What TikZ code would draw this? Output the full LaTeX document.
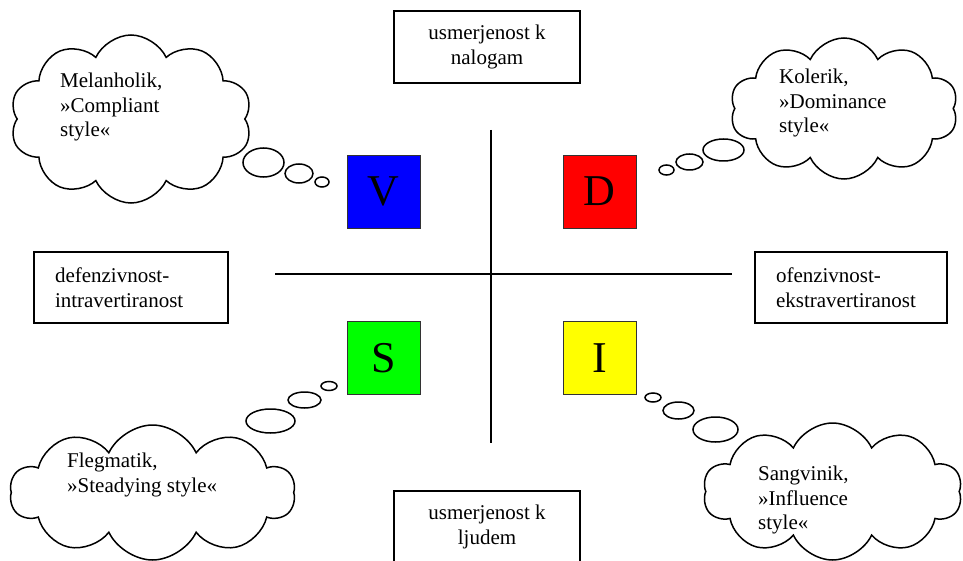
\documentclass[tikz,border=0pt]{standalone}
\usepackage{fontspec}
\setmainfont{Liberation Serif}
\usetikzlibrary{shapes.symbols}
\definecolor{vblue}{HTML}{0000FF}
\definecolor{dred}{HTML}{FF0000}
\definecolor{sgreen}{HTML}{00FF00}
\definecolor{iyellow}{HTML}{FFFF00}
\newcommand{\labfont}{\fontsize{21}{24.5}\selectfont}
\tikzset{
  axis/.style={draw=black, line width=1.4pt},
  frame/.style={draw=black, line width=1.4pt, font=\labfont, inner sep=0pt},
  side/.style={align=left, inner xsep=21pt, minimum height=71pt},
  sq/.style={draw=black!80, line width=0.9pt, minimum size=73pt, inner sep=0pt, font=\fontsize{44}{50}\selectfont},
  cloudy/.style={cloud, cloud puffs=10, cloud puff arc=130, draw=black, fill=white, line width=1.5pt, inner sep=0pt},
  bub/.style={draw=black, fill=white, line width=1.5pt},
  lab/.style={anchor=north west, inner sep=0pt, align=left, font=\labfont},
}

\begin{document}
\begin{tikzpicture}[x=1pt,y=-1pt]
  \useasboundingbox (0,0) rectangle (963,561);
  % the two axes
  \coordinate (N) at (491,130);
  \coordinate (Sd) at (491,443);
  \coordinate (W) at (275,274);
  \coordinate (E) at (732,274);
  \draw[axis] (N) -- (Sd);
  \draw[axis] (W) -- (E);

  % axis ends
  \node[frame, align=center, minimum width=186pt, minimum height=72pt] (task) at (487,47) {usmerjenost k\\nalogam};
  \node[frame, align=center, minimum width=186pt, minimum height=72pt] (people) at (487,527) {usmerjenost k\\ljudem};
  \node[frame, side, text width=152pt] (def) at (131,287.5) {defenzivnost-\\intravertiranost};
  \node[frame, side, text width=150pt] (off) at (851,287.5) {ofenzivnost-\\ekstravertiranost};

  % the four styles
  \node[sq, fill=vblue] (V) at (383.5,191.5) {V};
  \node[sq, fill=dred] (D) at (599.5,191.5) {D};
  \node[sq, fill=sgreen] (S) at (383.5,358) {S};
  \node[sq, fill=iyellow] (I) at (599.5,358) {I};

  % bubbles leading to the clouds
  \draw[bub] (263.5,162.5) ellipse [x radius=20.5pt, y radius=14.5pt];
  \draw[bub] (299,173.5) ellipse [x radius=14pt, y radius=9.5pt];
  \draw[bub] (322,182) ellipse [x radius=7pt, y radius=5pt];

  \draw[bub] (723.5,150) ellipse [x radius=20.5pt, y radius=11pt];
  \draw[bub] (689.5,162) ellipse [x radius=13.5pt, y radius=8pt];
  \draw[bub] (666.5,170) ellipse [x radius=7.5pt, y radius=5pt];

  \draw[bub] (270.5,421) ellipse [x radius=24.5pt, y radius=12pt];
  \draw[bub] (304.5,400) ellipse [x radius=16.5pt, y radius=8pt];
  \draw[bub] (329,386) ellipse [x radius=8pt, y radius=4.5pt];

  \draw[bub] (715.5,429.5) ellipse [x radius=22.5pt, y radius=12.5pt];
  \draw[bub] (678.5,410.5) ellipse [x radius=15.5pt, y radius=8.5pt];
  \draw[bub] (653,397.5) ellipse [x radius=8pt, y radius=4.5pt];

  % clouds
  \node[cloudy, minimum width=242pt, minimum height=168pt] (mel) at (131,119) {};
  \node[lab] (melt) at (60,73) {Melanholik,\\»Compliant\\style«};

  \node[cloudy, minimum width=228pt, minimum height=141pt] (kol) at (844,108.5) {};
  \node[lab] (kolt) at (779,69) {Kolerik,\\»Dominance\\style«};

  \node[cloudy, minimum width=285pt, minimum height=135pt] (fle) at (152.5,492.5) {};
  \node[lab] (flet) at (67,453) {Flegmatik,\\»Steadying style«};

  \node[cloudy, minimum width=259pt, minimum height=137pt] (san) at (832.5,491.5) {};
  \node[lab] (sant) at (758,466) {Sangvinik,\\»Influence\\style«};
\end{tikzpicture}
\end{document}
